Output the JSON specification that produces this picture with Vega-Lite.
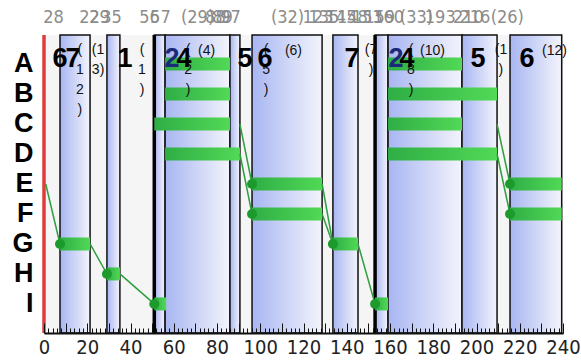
{
  "$schema": "https://vega.github.io/schema/vega-lite/v6.json",
  "width": 519,
  "height": 298,
  "autosize": {"type": "none"},
  "padding": {"left": 44, "top": 35, "right": 18, "bottom": 29},
  "background": "white",
  "config": {"view": {"fill": "#f5f5f5", "stroke": null}, "font": "Liberation Sans"},
  "datasets": {
    "boxes": [
      {"start": 7.4, "end": 21.3},
      {"start": 29.1, "end": 35.1},
      {"start": 51.0, "end": 56.0},
      {"start": 56.0, "end": 86.0},
      {"start": 86.0, "end": 90.6},
      {"start": 96.2, "end": 128.6},
      {"start": 133.6, "end": 145.2},
      {"start": 153.1, "end": 159.1},
      {"start": 159.1, "end": 193.3},
      {"start": 193.3, "end": 209.5},
      {"start": 215.5, "end": 239.4}
    ],
    "bands": [
      {"row": "G", "start": 7.4, "end": 21.3},
      {"row": "H", "start": 29.1, "end": 35.1},
      {"row": "I", "start": 51.0, "end": 56.5},
      {"row": "A", "start": 56.0, "end": 86.0},
      {"row": "B", "start": 56.0, "end": 86.0},
      {"row": "C", "start": 51.0, "end": 86.0},
      {"row": "D", "start": 56.0, "end": 90.6},
      {"row": "E", "start": 96.2, "end": 128.6},
      {"row": "F", "start": 96.2, "end": 128.6},
      {"row": "G", "start": 133.6, "end": 145.2},
      {"row": "I", "start": 153.1, "end": 159.1},
      {"row": "A", "start": 159.1, "end": 193.3},
      {"row": "B", "start": 159.1, "end": 209.5},
      {"row": "C", "start": 159.1, "end": 193.3},
      {"row": "D", "start": 159.1, "end": 209.5},
      {"row": "E", "start": 215.5, "end": 239.4},
      {"row": "F", "start": 215.5, "end": 239.4}
    ],
    "links": [
      {"seg": 1, "i": 0, "x": 0.8, "row": "E"},
      {"seg": 1, "i": 1, "x": 7.4, "row": "G"},
      {"seg": 2, "i": 0, "x": 21.3, "row": "G"},
      {"seg": 2, "i": 1, "x": 29.1, "row": "H"},
      {"seg": 3, "i": 0, "x": 35.1, "row": "H"},
      {"seg": 3, "i": 1, "x": 51.0, "row": "I"},
      {"seg": 4, "i": 0, "x": 90.6, "row": "C"},
      {"seg": 4, "i": 1, "x": 96.2, "row": "E"},
      {"seg": 5, "i": 0, "x": 90.6, "row": "D"},
      {"seg": 5, "i": 1, "x": 96.2, "row": "F"},
      {"seg": 6, "i": 0, "x": 128.6, "row": "E"},
      {"seg": 6, "i": 1, "x": 133.6, "row": "G"},
      {"seg": 7, "i": 0, "x": 128.6, "row": "F"},
      {"seg": 7, "i": 1, "x": 133.6, "row": "G"},
      {"seg": 8, "i": 0, "x": 145.2, "row": "G"},
      {"seg": 8, "i": 1, "x": 153.1, "row": "I"},
      {"seg": 9, "i": 0, "x": 209.5, "row": "C"},
      {"seg": 9, "i": 1, "x": 215.5, "row": "E"},
      {"seg": 10, "i": 0, "x": 209.5, "row": "D"},
      {"seg": 10, "i": 1, "x": 215.5, "row": "F"}
    ],
    "dots": [
      {"x": 7.4, "row": "G"},
      {"x": 29.1, "row": "H"},
      {"x": 51.0, "row": "I"},
      {"x": 96.2, "row": "E"},
      {"x": 96.2, "row": "F"},
      {"x": 133.6, "row": "G"},
      {"x": 153.1, "row": "I"},
      {"x": 215.5, "row": "E"},
      {"x": 215.5, "row": "F"}
    ],
    "big": [
      {"x": 7.4, "row": "A", "label": "6"},
      {"x": 13.4, "row": "A", "label": "7"},
      {"x": 37.5, "row": "A", "label": "1"},
      {"x": 59.2, "row": "A", "label": "2"},
      {"x": 64.7, "row": "A", "label": "4"},
      {"x": 93.0, "row": "A", "label": "5"},
      {"x": 102.2, "row": "A", "label": "6"},
      {"x": 142.4, "row": "A", "label": "7"},
      {"x": 162.8, "row": "A", "label": "2"},
      {"x": 167.9, "row": "A", "label": "4"},
      {"x": 200.7, "row": "A", "label": "5"},
      {"x": 223.4, "row": "A", "label": "6"}
    ],
    "small": [
      {"x": 71.2, "row": "A", "label": "(4)"},
      {"x": 111.4, "row": "A", "label": "(6)"},
      {"x": 173.9, "row": "A", "label": "(10)"},
      {"x": 230.3, "row": "A", "label": "(12)"}
    ],
    "stack": [
      {"x": 16.6, "row": "A", "label": "(|1|2|)"},
      {"x": 25.0, "row": "A", "label": "(1|3)"},
      {"x": 45.3, "row": "A", "label": "(|1|)"},
      {"x": 66.6, "row": "A", "label": "(|2|)"},
      {"x": 102.7, "row": "A", "label": "(|5|)"},
      {"x": 151.2, "row": "A", "label": "(7|)"},
      {"x": 169.7, "row": "A", "label": "(|8|)"},
      {"x": 211.3, "row": "A", "label": "(1|)"}
    ],
    "edges": [{"x": 0}],
    "thick": [{"x": 51.0}, {"x": 153.1}]
  },
  "resolve": {"axis": {"x": "independent"}},
  "layer": [
    {
      "data": {"name": "boxes"},
      "mark": {
        "type": "rect",
        "fill": {"gradient": "linear", "x1": 0, "y1": 0, "x2": 1, "y2": 0,
          "stops": [{"offset": 0, "color": "#a8b6f2"}, {"offset": 1, "color": "#f3f4fb"}]},
        "stroke": "#111111",
        "strokeWidth": 1.5
      },
      "encoding": {
        "x": {
          "field": "start", "type": "quantitative",
          "scale": {"domain": [0, 240], "nice": false, "zero": false},
          "axis": {
            "orient": "bottom", "title": null, "grid": false, "zindex": 1,
            "values": [0,2,4,6,8,10,12,14,16,18,20,22,24,26,28,30,32,34,36,38,40,42,44,46,48,50,52,54,56,58,60,62,64,66,68,70,72,74,76,78,80,82,84,86,88,90,92,94,96,98,100,102,104,106,108,110,112,114,116,118,120,122,124,126,128,130,132,134,136,138,140,142,144,146,148,150,152,154,156,158,160,162,164,166,168,170,172,174,176,178,180,182,184,186,188,190,192,194,196,198,200,202,204,206,208,210,212,214,216,218,220,222,224,226,228,230,232,234,236,238,240],
            "labelExpr": "datum.value % 20 === 0 ? datum.label : ''",
            "tickSize": -5,
            "tickColor": "#111111",
            "tickWidth": 1,
            "domainColor": "#111111",
            "domainWidth": 2,
            "labelFont": "Liberation Sans Narrow, Arial Narrow, DejaVu Sans Condensed, Liberation Sans",
            "labelFontSize": 20,
            "labelColor": "#222222",
            "labelPadding": 9,
            "labelOverlap": false,
            "labelFlush": false
          }
        },
        "x2": {"field": "end"}
      }
    },
    {
      "data": {"name": "edges"},
      "mark": {"type": "rule", "color": "#e23b3b", "strokeWidth": 3.5},
      "encoding": {
        "x": {
          "field": "x", "type": "quantitative",
          "scale": {"domain": [0, 240], "nice": false, "zero": false},
          "axis": {
            "orient": "top", "title": null, "grid": false, "domain": false, "ticks": false,
            "values": [4.2, 20.8, 25.4, 31.0, 48.6, 53.6, 70.8, 79.1, 82.3, 86.0, 112.4, 126.5, 129.2, 137.1, 142.4, 149.3, 155.0, 159.1, 172.0, 183.0, 196.0, 199.0, 214.0],
            "labelExpr": "datum.value == 4.2 ? '28' : datum.value == 20.8 ? '22' : datum.value == 25.4 ? '29' : datum.value == 31.0 ? '35' : datum.value == 48.6 ? '56' : datum.value == 53.6 ? '57' : datum.value == 70.8 ? '(29)' : datum.value == 79.1 ? '88' : datum.value == 82.3 ? '89' : datum.value == 86.0 ? '97' : datum.value == 112.4 ? '(32)' : datum.value == 126.5 ? '123' : datum.value == 129.2 ? '135' : datum.value == 137.1 ? '145' : datum.value == 142.4 ? '148' : datum.value == 149.3 ? '153' : datum.value == 155.0 ? '159' : datum.value == 159.1 ? '160' : datum.value == 172.0 ? '(33)' : datum.value == 183.0 ? '193' : datum.value == 196.0 ? '210' : datum.value == 199.0 ? '216' : '(26)'",
            "labelFont": "Liberation Sans Narrow, Arial Narrow, DejaVu Sans Condensed, Liberation Sans",
            "labelFontSize": 18,
            "labelColor": "#8c8c8c",
            "labelPadding": 9,
            "labelOverlap": false,
            "labelFlush": false
          }
        }
      }
    },
    {
      "data": {"name": "thick"},
      "mark": {"type": "rule", "color": "#000000", "strokeWidth": 3.5},
      "encoding": {
        "x": {
          "field": "x", "type": "quantitative", "scale": {"domain": [0, 240], "nice": false, "zero": false},
          "axis": {
            "orient": "bottom", "title": null, "grid": false, "domain": false, "labels": false, "zindex": 1,
            "values": [0,10,20,30,40,50,60,70,80,90,100,110,120,130,140,150,160,170,180,190,200,210,220,230,240],
            "tickSize": -10, "tickColor": "#111111", "tickWidth": 1
          }
        }
      }
    },
    {
      "data": {"name": "bands"},
      "mark": {
        "type": "bar", "size": 13, "orient": "horizontal",
        "fill": {"gradient": "linear", "x1": 0, "y1": 0, "x2": 1, "y2": 0,
          "stops": [{"offset": 0, "color": "#2fae45"}, {"offset": 1, "color": "#52d956"}]}
      },
      "encoding": {
        "x": {"field": "start", "type": "quantitative", "scale": {"domain": [0, 240], "nice": false, "zero": false}, "axis": null},
        "x2": {"field": "end"},
        "y": {
          "field": "row", "type": "nominal",
          "scale": {"type": "band", "domain": ["A","B","C","D","E","F","G","H","I"], "paddingInner": 0, "paddingOuter": 0.47},
          "axis": {"title": null, "domain": false, "ticks": false, "grid": false, "labelFontSize": 27, "labelFontWeight": "bold", "labelColor": "#000000", "labelPadding": 11, "labelFont": "Liberation Sans"}
        }
      }
    },
    {
      "data": {"name": "links"},
      "mark": {"type": "line", "color": "#2e9e3e", "strokeWidth": 1.5},
      "encoding": {
        "x": {"field": "x", "type": "quantitative", "scale": {"domain": [0, 240], "nice": false, "zero": false}, "axis": null},
        "y": {
          "field": "row", "type": "nominal",
          "scale": {"type": "band", "domain": ["A","B","C","D","E","F","G","H","I"], "paddingInner": 0, "paddingOuter": 0.47},
          "axis": {"title": null, "domain": false, "ticks": false, "grid": false, "labelFontSize": 27, "labelFontWeight": "bold", "labelColor": "#000000", "labelPadding": 11, "labelFont": "Liberation Sans"}
        },
        "detail": {"field": "seg", "type": "nominal"},
        "order": {"field": "i", "type": "quantitative"}
      }
    },
    {
      "data": {"name": "dots"},
      "mark": {"type": "point", "filled": true, "color": "#1c9a2c", "size": 100, "opacity": 1},
      "encoding": {
        "x": {"field": "x", "type": "quantitative", "scale": {"domain": [0, 240], "nice": false, "zero": false}, "axis": null},
        "y": {
          "field": "row", "type": "nominal",
          "scale": {"type": "band", "domain": ["A","B","C","D","E","F","G","H","I"], "paddingInner": 0, "paddingOuter": 0.47},
          "axis": {"title": null, "domain": false, "ticks": false, "grid": false, "labelFontSize": 27, "labelFontWeight": "bold", "labelColor": "#000000", "labelPadding": 11, "labelFont": "Liberation Sans"}
        }
      }
    },
    {
      "data": {"name": "stack"},
      "mark": {"type": "text", "fontSize": 14, "align": "center", "baseline": "top", "lineBreak": "|", "lineHeight": 20, "dy": -21, "color": "#111111"},
      "encoding": {
        "x": {"field": "x", "type": "quantitative", "scale": {"domain": [0, 240], "nice": false, "zero": false}, "axis": null},
        "y": {
          "field": "row", "type": "nominal",
          "scale": {"type": "band", "domain": ["A","B","C","D","E","F","G","H","I"], "paddingInner": 0, "paddingOuter": 0.47},
          "axis": {"title": null, "domain": false, "ticks": false, "grid": false, "labelFontSize": 27, "labelFontWeight": "bold", "labelColor": "#000000", "labelPadding": 11, "labelFont": "Liberation Sans"}
        },
        "text": {"field": "label", "type": "nominal"}
      }
    },
    {
      "data": {"name": "small"},
      "mark": {"type": "text", "fontSize": 14, "align": "left", "baseline": "middle", "dy": -13, "color": "#111111"},
      "encoding": {
        "x": {"field": "x", "type": "quantitative", "scale": {"domain": [0, 240], "nice": false, "zero": false}, "axis": null},
        "y": {
          "field": "row", "type": "nominal",
          "scale": {"type": "band", "domain": ["A","B","C","D","E","F","G","H","I"], "paddingInner": 0, "paddingOuter": 0.47},
          "axis": {"title": null, "domain": false, "ticks": false, "grid": false, "labelFontSize": 27, "labelFontWeight": "bold", "labelColor": "#000000", "labelPadding": 11, "labelFont": "Liberation Sans"}
        },
        "text": {"field": "label", "type": "nominal"}
      }
    },
    {
      "data": {"name": "big"},
      "mark": {"type": "text", "fontSize": 27, "fontWeight": "bold", "align": "center", "baseline": "middle", "dy": -5},
      "encoding": {
        "x": {"field": "x", "type": "quantitative", "scale": {"domain": [0, 240], "nice": false, "zero": false}, "axis": null},
        "y": {
          "field": "row", "type": "nominal",
          "scale": {"type": "band", "domain": ["A","B","C","D","E","F","G","H","I"], "paddingInner": 0, "paddingOuter": 0.47},
          "axis": {"title": null, "domain": false, "ticks": false, "grid": false, "labelFontSize": 27, "labelFontWeight": "bold", "labelColor": "#000000", "labelPadding": 11, "labelFont": "Liberation Sans"}
        },
        "text": {"field": "label", "type": "nominal"},
        "color": {"condition": {"test": "datum.label === '2'", "value": "#1b2a7a"}, "value": "#000000"}
      }
    }
  ]
}
